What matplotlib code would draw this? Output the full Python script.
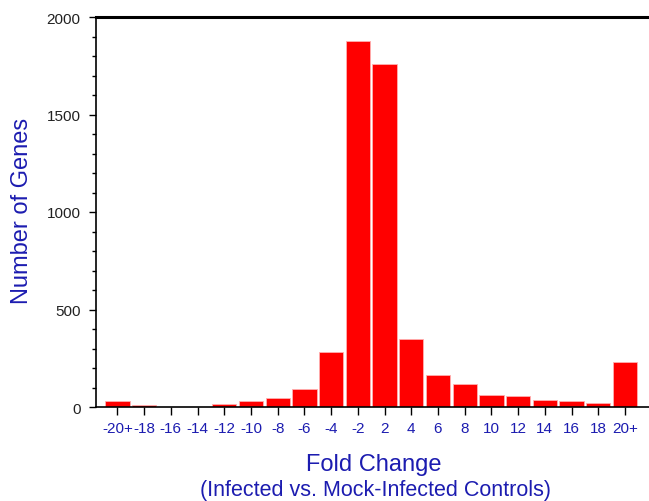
import matplotlib
matplotlib.use("Agg")
import matplotlib.pyplot as plt
from matplotlib.ticker import MultipleLocator

# fold change bins and gene counts
labels = ['-20+', '-18', '-16', '-14', '-12', '-10', '-8', '-6', '-4', '-2',
          '2', '4', '6', '8', '10', '12', '14', '16', '18', '20+']
counts = [30, 10, 0, 0, 15, 30, 45, 90, 282, 1877,
          1759, 349, 163, 116, 63, 55, 36, 29, 22, 231]

blue = '#1c1cb0'
plt.rcParams['font.family'] = ['Liberation Sans', 'DejaVu Sans']

fig = plt.figure(figsize=(6.49, 5.02), dpi=100)
ax = fig.add_axes([96/649, 1 - 408/502, 1 - 96/649, 390/502])

x = list(range(len(labels)))
ax.bar(x, counts, width=0.91, color='#ff0000', edgecolor='#ffb0b0', linewidth=0.6)

ax.set_xlim(-0.8, 19.9)
ax.set_ylim(0, 2000)
ax.set_xticks(x)
ax.set_xticklabels(labels, color=blue, fontsize=11)
ax.yaxis.set_major_locator(MultipleLocator(500))
ax.yaxis.set_minor_locator(MultipleLocator(100))
ax.tick_params(axis='y', which='major', length=5, width=1, labelsize=11, labelcolor='#222222', pad=6)
ax.tick_params(axis='y', which='minor', length=3, width=1)
ax.tick_params(axis='x', length=6, width=1, pad=4)

ax.spines['right'].set_visible(False)
ax.spines['top'].set_linewidth(2.2)
ax.spines['left'].set_linewidth(1.2)
ax.spines['bottom'].set_linewidth(1.2)

fig.text(22/649, 1 - 211/502, 'Number of Genes', rotation=90, color=blue,
         fontsize=17, ha='center', va='center')
fig.text(374/649, 1 - 465/502, 'Fold Change', color=blue, fontsize=17,
         ha='center', va='center')
fig.text(375/649, 1 - 491/502, '(Infected vs. Mock-Infected Controls)', color=blue,
         fontsize=15.5, ha='center', va='center')

fig.savefig('out.png', dpi=100)
